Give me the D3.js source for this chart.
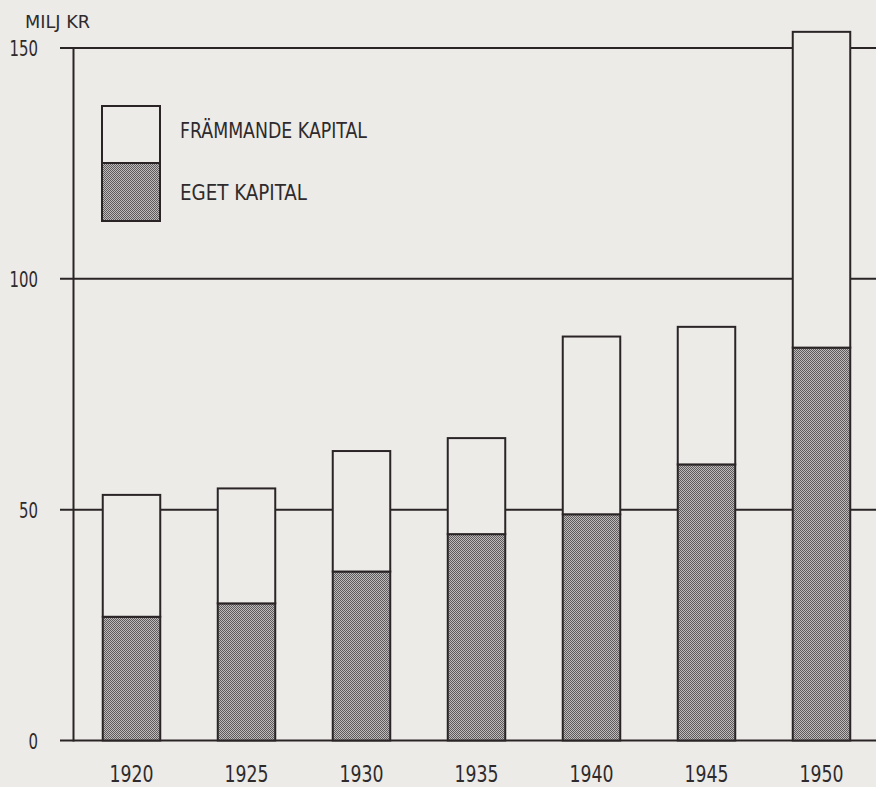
<!DOCTYPE html>
<html>
<head>
<meta charset="utf-8">
<script src="https://cdn.jsdelivr.net/npm/d3@7"></script>
<style>
  html, body { margin: 0; padding: 0; background: #ecebe8; }
  svg { display: block; }
  text { font-family: "DejaVu Sans Condensed", "Liberation Sans Narrow", sans-serif; fill: #2f2a2c; font-weight: 300; }
</style>
</head>
<body>
<script>
// Capital of the company, million kronor, by year
const years = ["1920", "1925", "1930", "1935", "1940", "1945", "1950"];
const egetKapital = [26.8, 29.7, 36.6, 44.7, 49.0, 59.8, 85.1];
const frammandeKapital = [26.4, 24.9, 26.1, 20.8, 38.5, 29.8, 68.4];
const yTicks = [0, 50, 100, 150];
const seriesKeys = ["eget", "frammande"];
const legendLabels = { frammande: "FRÄMMANDE KAPITAL", eget: "EGET KAPITAL" };
const unitLabel = "MILJ KR";

const W = 876, H = 787;
const ink = "#2a2426";
const paper = "#ecebe8";

const rows = years.map((y, i) => ({ year: y, eget: egetKapital[i], frammande: frammandeKapital[i] }));
const stacked = d3.stack().keys(seriesKeys)(rows);

const svg = d3.select("body").append("svg").attr("width", W).attr("height", H);

// Stippled fill for equity
const defs = svg.append("defs");
const pat = defs.append("pattern").attr("id", "stipple")
  .attr("width", 2).attr("height", 2).attr("patternUnits", "userSpaceOnUse");
pat.append("rect").attr("width", 2).attr("height", 2).attr("fill", "#bdbbbb");
pat.append("rect").attr("x", 0).attr("y", 0).attr("width", 1).attr("height", 1).attr("fill", "#5e5a5c");
pat.append("rect").attr("x", 1).attr("y", 1).attr("width", 1).attr("height", 1).attr("fill", "#5e5a5c");

const fills = { eget: "url(#stipple)", frammande: paper };

const x = d3.scaleBand().domain(years).range([74, 879]).paddingInner(0.5).paddingOuter(0.25);
const y = d3.scaleLinear().domain([0, 150]).range([740.5, 48]);

// Horizontal reference lines
svg.append("g").selectAll("line").data(yTicks).join("line")
  .attr("x1", 60).attr("x2", W)
  .attr("y1", d => y(d)).attr("y2", d => y(d))
  .attr("stroke", ink).attr("stroke-width", 2);

// Vertical axis line
svg.append("line")
  .attr("x1", 73.5).attr("x2", 73.5)
  .attr("y1", y(150)).attr("y2", y(0) + 1)
  .attr("stroke", ink).attr("stroke-width", 2);

// Tick labels, set narrow
svg.append("g").selectAll("text").data(yTicks).join("text")
  .attr("x", 38).attr("y", d => y(d) + 8)
  .attr("text-anchor", "end")
  .attr("font-size", 22)
  .attr("textLength", d => String(d).length * 9.5)
  .attr("lengthAdjust", "spacingAndGlyphs")
  .text(d => d);

svg.append("text").attr("x", 25).attr("y", 28).attr("font-size", 18)
  .attr("textLength", 65).attr("lengthAdjust", "spacingAndGlyphs")
  .text(unitLabel);

// Stacked bars
svg.append("g").selectAll("g").data(stacked).join("g")
  .attr("fill", d => fills[d.key])
  .selectAll("rect").data(d => d).join("rect")
  .attr("x", d => x(d.data.year))
  .attr("width", x.bandwidth())
  .attr("y", d => y(d[1]))
  .attr("height", d => y(d[0]) - y(d[1]))
  .attr("stroke", ink).attr("stroke-width", 2);

// Year labels
svg.append("g").selectAll("text").data(years).join("text")
  .attr("x", d => x(d) + x.bandwidth() / 2)
  .attr("y", 782)
  .attr("text-anchor", "middle")
  .attr("font-size", 23)
  .attr("textLength", 44)
  .attr("lengthAdjust", "spacingAndGlyphs")
  .text(d => d);

// Legend
const lg = svg.append("g");
lg.append("rect").attr("x", 102).attr("y", 106).attr("width", 58).attr("height", 57)
  .attr("fill", fills.frammande).attr("stroke", ink).attr("stroke-width", 2);
lg.append("rect").attr("x", 102).attr("y", 163).attr("width", 58).attr("height", 58)
  .attr("fill", fills.eget).attr("stroke", ink).attr("stroke-width", 2);
lg.append("text").attr("x", 180).attr("y", 138).attr("font-size", 21)
  .attr("textLength", 187).attr("lengthAdjust", "spacingAndGlyphs")
  .text(legendLabels.frammande);
lg.append("text").attr("x", 180).attr("y", 200).attr("font-size", 21)
  .attr("textLength", 127).attr("lengthAdjust", "spacingAndGlyphs")
  .text(legendLabels.eget);
</script>
</body>
</html>
